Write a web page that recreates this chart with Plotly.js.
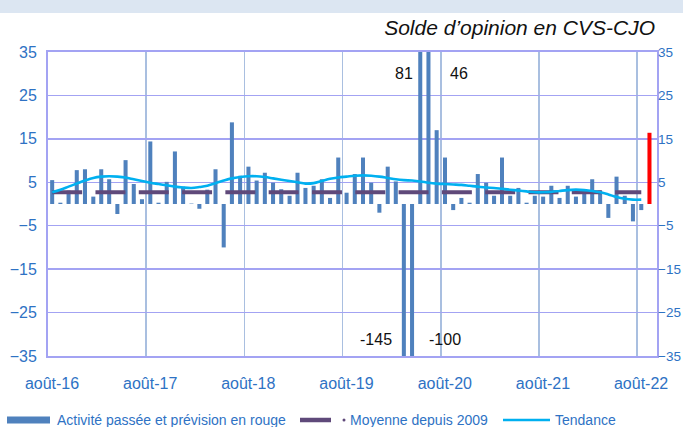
<!DOCTYPE html>
<html><head><meta charset="utf-8">
<script src="https://cdn.plot.ly/plotly-3.0.1.min.js"></script>
<style>html,body{margin:0;padding:0;background:#fff;overflow:hidden;}</style>
</head><body><div id="chart" style="width:683px;height:427px;"></div>
<script>
// ---- data ----
const startMonth = '2016-08';
const activite = [
  5.5, 0.3, 3.1, 7.8, 8.0, 1.7, 8.0, 5.7, -2.3, 10.1, 4.6, 1.1,
  14.4, 0.3, 5.1, 12.1, 4.0, 0.1, -1.1, 3.3, 8.0, -10.0, 18.8, 6.5,
  8.6, 5.4, 7.2, 4.9, 3.4, 1.9, 7.2, 3.7, 4.2, 5.7, 1.4, 10.7,
  2.6, 6.9, 10.7, 4.9, -2.0, 8.6, 5.2, -145, -100, 81, 46, 17.0,
  10.7, -1.4, 1.4, 0.3, 6.9, 4.9, 1.9, 10.7, 1.9, 3.7, 0.3, 1.9,
  1.7, 4.2, 1.4, 4.2, 1.7, 3.0, 5.7, 3.1, -3.2, 6.3, 1.9, -4.0,
  -1.4, 16.4
];
const tendance = [
  2.7, 3.3, 4.0, 4.7, 5.4, 6.0, 6.3, 6.4, 6.3, 6.1, 5.7, 5.3,
  4.9, 4.6, 4.3, 4.0, 3.8, 3.7, 3.9, 4.2, 4.8, 5.4, 5.9, 6.2,
  6.4, 6.4, 6.2, 5.9, 5.6, 5.3, 5.0, 4.7, 4.8, 5.3, 5.8, 6.1,
  6.3, 6.5, 6.6, 6.5, 6.3, 6.0, 5.7, 5.5, 5.4, 5.2, 4.9, 4.7,
  4.6, 4.5, 4.4, 4.2, 4.0, 3.8, 3.7, 3.5, 3.3, 3.1, 2.9, 2.7,
  2.7, 2.8, 3.0, 3.2, 3.3, 3.2, 3.0, 2.7, 2.2, 1.6, 1.2, 1.0,
  1.0
];
const moyenne = 2.7;
const tickDates = ['2016-08-01','2017-08-01','2018-08-01','2019-08-01','2020-08-01','2021-08-01','2022-08-01'];
const tickLabels = ['août-16','août-17','août-18','août-19','août-20','août-21','août-22'];
const yTicks = [-35, -25, -15, -5, 5, 15, 25, 35];
const titleText = 'Solde d’opinion en CVS-CJO';
const legendLabels = ['Activité passée et prévision en rouge', 'Moyenne depuis 2009', 'Tendance'];

// ---- helpers ----
function monthList(start, n) {
  const [y, m] = start.split('-').map(Number);
  const out = [];
  for (let i = 0; i < n; i++) {
    const t = (m - 1) + i;
    out.push((y + Math.floor(t / 12)) + '-' + String(t % 12 + 1).padStart(2, '0'));
  }
  return out;
}
const months = monthList(startMonth, activite.length);

const BLUE = '#4F81BD', RED = '#FF0000', PURPLE = '#5F497A', CYAN = '#00B0F0';
const TXT = '#2E72C4', HGRID = '#A3A3F3', VGRID = '#A9BFE0';
const FONT = 'Liberation Sans, Arial, sans-serif';

const W = 683, H = 427, ML = 48, MR = 26, MT = 52, MB = 71;
const PW = W - ML - MR, PH = H - MT - MB;
const fx = px => (px - ML) / PW;
const fy = py => (H - MB - py) / PH;

const barColors = activite.map((v, i) => i === activite.length - 1 ? RED : BLUE);

const traces = [
  {
    type: 'bar', x: months, y: activite, xperiod: 'M1', xperiodalignment: 'middle',
    width: 15 * 86400000, marker: {color: barColors, line: {width: 0}},
    showlegend: false, hoverinfo: 'skip'
  },
  {
    type: 'scatter', mode: 'lines',
    x: [months[0], months[tendance.length - 1]], y: [moyenne, moyenne],
    xperiod: 'M1', xperiodalignment: 'middle',
    line: {color: PURPLE, width: 4, dash: '30px,13.3px'},
    showlegend: false, hoverinfo: 'skip'
  },
  {
    type: 'scatter', mode: 'lines', x: months.slice(0, tendance.length), y: tendance,
    xperiod: 'M1', xperiodalignment: 'middle',
    line: {color: CYAN, width: 2.6, shape: 'spline', smoothing: 1},
    showlegend: false, hoverinfo: 'skip'
  },
  {
    // transparent copy on the right-hand axis so that it is drawn
    type: 'scatter', mode: 'lines', x: months.slice(0, tendance.length), y: tendance,
    xperiod: 'M1', xperiodalignment: 'middle', yaxis: 'y2',
    line: {color: 'rgba(0,0,0,0)', width: 0.1},
    showlegend: false, hoverinfo: 'skip'
  }
];

// labels for clipped bars
const annotations = [];
const clipShift = {};
clipShift[-145] = {xanchor: 'right', xshift: -6, y: -31.2};
clipShift[-100] = {xanchor: 'left', xshift: 19, y: -31.2};
clipShift[81] = {xanchor: 'right', xshift: -1, y: 30};
clipShift[46] = {xanchor: 'left', xshift: 24, y: 30};
activite.forEach((v, i) => {
  if (Math.abs(v) > 35) {
    const s = clipShift[v] || {xanchor: 'center', xshift: 0, y: v > 0 ? 30 : -31};
    annotations.push({
      x: months[i] + '-01', y: s.y, xref: 'x', yref: 'y', text: String(v),
      showarrow: false, xanchor: s.xanchor, xshift: s.xshift, yanchor: 'middle',
      font: {family: FONT, size: 16, color: '#111111'}
    });
  }
});

// custom legend
const LY = 420;
const shapes = [
  {type: 'rect', xref: 'paper', yref: 'paper', x0: fx(0), x1: fx(W), y0: fy(13), y1: fy(0),
   fillcolor: '#DCE6F2', line: {width: 0}, layer: 'below'},
  {type: 'rect', xref: 'paper', yref: 'paper', x0: fx(7), x1: fx(50), y0: fy(LY + 3.5), y1: fy(LY - 3.5),
   fillcolor: BLUE, line: {width: 0}},
  {type: 'line', xref: 'paper', yref: 'paper', x0: fx(300), x1: fx(331), y0: fy(LY), y1: fy(LY),
   line: {color: PURPLE, width: 4.5}},
  {type: 'circle', xref: 'paper', yref: 'paper', x0: fx(342.5), x1: fx(345.5), y0: fy(LY + 1.5), y1: fy(LY - 1.5),
   fillcolor: PURPLE, line: {width: 0}},
  {type: 'line', xref: 'paper', yref: 'paper', x0: fx(503), x1: fx(550), y0: fy(LY), y1: fy(LY),
   line: {color: CYAN, width: 2.6}}
];
const legendX = [55, 348, 553];
legendLabels.forEach((t, i) => {
  annotations.push({
    x: fx(legendX[i]), y: fy(LY), xref: 'paper', yref: 'paper', text: t, showarrow: false,
    xanchor: 'left', yanchor: 'middle', font: {family: FONT, size: 14, color: TXT}
  });
});

const layout = {
  width: W, height: H, margin: {l: ML, r: MR, t: MT, b: MB, pad: 0},
  paper_bgcolor: '#ffffff', plot_bgcolor: '#ffffff',
  showlegend: false,
  title: {
    text: titleText, x: 655 / W, xanchor: 'right', xref: 'container',
    y: 1 - 28 / H, yanchor: 'middle', yref: 'container',
    font: {family: FONT, size: 21, color: '#111111', style: 'italic'}
  },
  xaxis: {
    type: 'date', range: ['2016-08-01', '2022-10-14'],
    tickmode: 'array', tickvals: tickDates, ticktext: tickLabels,
    showgrid: true, gridcolor: VGRID, gridwidth: 1.5,
    showline: true, mirror: true, linecolor: HGRID, linewidth: 2,
    zeroline: false, ticks: 'outside', ticklen: 12, tickcolor: 'rgba(0,0,0,0)',
    ticklabelshift: 4,
    tickfont: {family: FONT, size: 16, color: TXT}
  },
  yaxis: {
    range: [-35, 35], tickmode: 'array', tickvals: yTicks,
    showgrid: true, gridcolor: HGRID, gridwidth: 1.5,
    showline: true, mirror: true, linecolor: HGRID, linewidth: 2,
    zeroline: false, ticks: 'outside', ticklen: 6, tickcolor: 'rgba(0,0,0,0)',
    tickfont: {family: FONT, size: 16, color: TXT}
  },
  yaxis2: {
    overlaying: 'y', side: 'right', anchor: 'x',
    range: [-35, 35], tickmode: 'array', tickvals: yTicks,
    showgrid: false, zeroline: false, showline: false,
    ticks: '', tickfont: {family: FONT, size: 13.5, color: TXT}
  },
  shapes: shapes,
  annotations: annotations
};

Plotly.newPlot('chart', traces, layout, {displayModeBar: false, staticPlot: true});
</script>
</body></html>
